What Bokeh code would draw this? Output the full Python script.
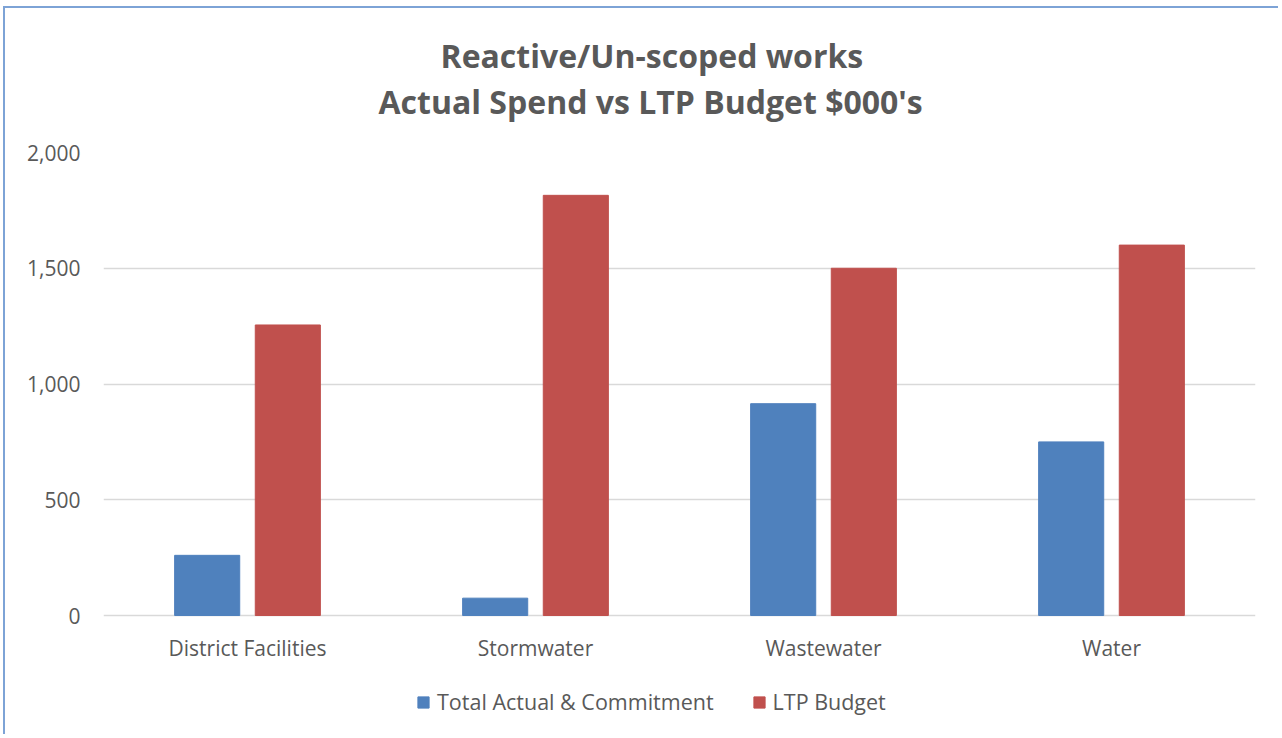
from bokeh.plotting import figure
from bokeh.models import (ColumnDataSource, FactorRange, Range1d, FixedTicker,
                          NumeralTickFormatter, Legend, LegendItem, Title)
from bokeh.core.properties import value
from bokeh.transform import dodge
from bokeh.embed import file_html
from bokeh.resources import INLINE

categories = ["District Facilities", "Stormwater", "Wastewater", "Water"]
actual = [260, 75, 915, 750]
budget = [1255, 1815, 1500, 1600]
series_names = ["Total Actual & Commitment", "LTP Budget"]
y_ticks = [0, 500, 1000, 1500, 2000]
title_lines = ["Reactive/Un-scoped works", "Actual Spend vs LTP Budget $000's"]

BLUE = "#4F81BD"
RED = "#C0504D"
GREY = "#595959"
FONT = "Open Sans"
LABEL_Y = -142      # data-space position of the category labels under the zero line
Y_MIN = -475        # room under the zero line for labels and legend

src = ColumnDataSource(dict(cat=categories, actual=actual, budget=budget))

p = figure(x_range=FactorRange(factors=categories), y_range=Range1d(Y_MIN, 2000),
           width=1275, height=728, output_backend="svg", toolbar_location=None,
           title=None, x_axis_location=None,
           min_border_left=98, min_border_right=25,
           min_border_top=144, min_border_bottom=11)
p.styles = {"margin-left": "3px", "margin-top": "6px",
            "border-left": "2px solid #7DA3D6", "border-top": "2px solid #7DA3D6"}

r1 = p.vbar(x=dodge("cat", -0.14, range=p.x_range), top="actual", width=0.226,
            source=src, fill_color=BLUE, line_color=BLUE)
r2 = p.vbar(x=dodge("cat", 0.14, range=p.x_range), top="budget", width=0.226,
            source=src, fill_color=RED, line_color=RED)

p.text(x="cat", y=LABEL_Y, text="cat", source=src, text_align="center",
       text_baseline="middle", text_font=value(FONT), text_font_size="21px",
       text_color=GREY)

p.outline_line_color = None
p.xgrid.grid_line_color = None
p.ygrid.ticker = FixedTicker(ticks=y_ticks)
p.ygrid.grid_line_color = "#D9D9D9"
p.ygrid.grid_line_width = 1.5

p.yaxis.ticker = FixedTicker(ticks=y_ticks)
p.yaxis.formatter = NumeralTickFormatter(format="0,0")
p.yaxis.axis_line_color = None
p.yaxis.major_tick_line_color = None
p.yaxis.minor_tick_line_color = None
p.yaxis.major_label_standoff = 17
p.yaxis.major_label_text_font = FONT
p.yaxis.major_label_text_font_size = "21px"
p.yaxis.major_label_text_color = GREY

legend = Legend(items=[LegendItem(label=series_names[0], renderers=[r1]),
                       LegendItem(label=series_names[1], renderers=[r2])],
                location=(313, 9), orientation="horizontal",
                glyph_width=14, glyph_height=14, label_standoff=7, spacing=38,
                padding=0, margin=0, border_line_color=None,
                background_fill_alpha=0, label_text_font=FONT,
                label_text_font_size="21.5px", label_text_color=GREY,
                label_height=14)
p.add_layout(legend, "center")

spacer = Title(text=" ", text_font_size="2px", standoff=24)
t2 = Title(text=title_lines[1], align="left", text_font=FONT,
           text_font_size="32px", text_font_style="bold", text_color=GREY,
           standoff=3, offset=275)
t1 = Title(text=title_lines[0], align="left", text_font=FONT,
           text_font_size="32px", text_font_style="bold", text_color=GREY,
           standoff=0, offset=337)
p.add_layout(spacer, "above")
p.add_layout(t2, "above")
p.add_layout(t1, "above")

open("out.html", "w").write(file_html(p, INLINE))
